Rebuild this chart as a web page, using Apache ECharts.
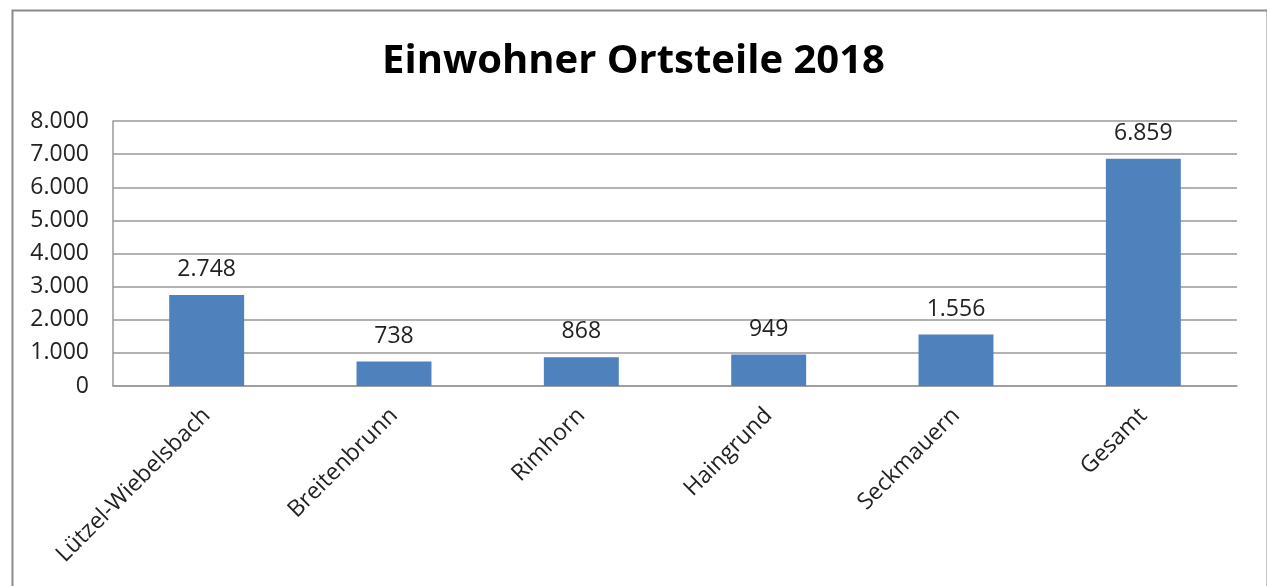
<!DOCTYPE html>
<html>
<head>
<meta charset="utf-8">
<script src="https://cdn.jsdelivr.net/npm/echarts@6/dist/echarts.min.js"></script>
<style>
html,body{margin:0;padding:0;background:#fff;}
#c{width:1267px;height:586px;}
</style>
</head>
<body>
<div id="c"></div>
<script>
const titleText = 'Einwohner Ortsteile 2018';
const categories = ['Lützel-Wiebelsbach', 'Breitenbrunn', 'Rimhorn', 'Haingrund', 'Seckmauern', 'Gesamt'];
const values = [2748, 738, 868, 949, 1556, 6859];
const yTicks = { min: 0, max: 8000, interval: 1000 };

function fmt(v) {
  return String(v).replace(/\B(?=(\d{3})+(?!\d))/g, '.');
}

const chart = echarts.init(document.getElementById('c'), null, { renderer: 'canvas' });
chart.setOption({
  backgroundColor: '#fff',
  animation: false,
  textStyle: { fontFamily: 'Open Sans' },
  graphic: [{
    type: 'rect',
    left: 10, top: 8,
    shape: { width: 1255, height: 620 },
    style: { fill: 'none', stroke: '#8a8a8a', lineWidth: 2 },
    z: -1
  }],
  title: {
    text: titleText,
    left: 'center',
    top: 37,
    textStyle: { fontFamily: 'Open Sans', fontWeight: 'bold', fontSize: 40, color: '#000' }
  },
  grid: { left: 113, right: 30, top: 121, bottom: 200, containLabel: false },
  xAxis: {
    type: 'category',
    data: categories,
    axisLine: { show: true, lineStyle: { color: '#999', width: 1.5 } },
    axisTick: { show: false },
    axisLabel: { rotate: 45, fontSize: 23, color: '#222', margin: 26, interval: 0 }
  },
  yAxis: {
    type: 'value',
    min: yTicks.min, max: yTicks.max, interval: yTicks.interval,
    axisLine: { show: true, lineStyle: { color: '#999', width: 1.5 } },
    axisTick: { show: false },
    splitLine: { lineStyle: { color: '#999', width: 1.5 } },
    axisLabel: { fontSize: 23, color: '#222', margin: 24, formatter: v => fmt(v) }
  },
  series: [{
    type: 'bar',
    data: values,
    barWidth: '40%',
    itemStyle: { color: '#4F81BD' },
    label: {
      show: true, position: 'top', distance: 14,
      fontSize: 23, color: '#222',
      formatter: p => fmt(p.value)
    }
  }]
});
</script>
</body>
</html>
